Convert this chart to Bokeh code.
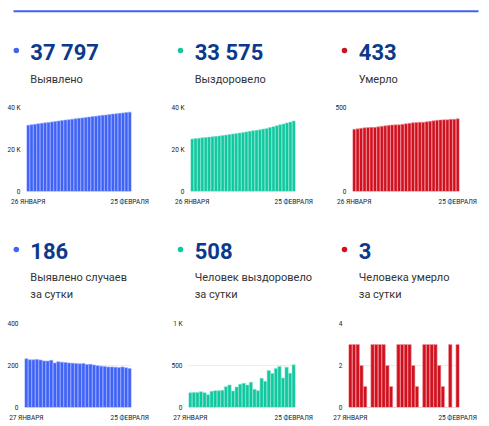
from bokeh.plotting import figure
from bokeh.layouts import column, row
from bokeh.models import Range1d, FixedTicker, ColumnDataSource
from bokeh.core.properties import value
from bokeh.embed import file_html
from bokeh.resources import INLINE

# ---------------- data ----------------
cum_x_labels = ["26 ЯНВАРЯ", "25 ФЕВРАЛЯ"]
daily_x_labels = ["27 ЯНВАРЯ", "25 ФЕВРАЛЯ"]

cum_cases = [31538, 31770, 31997, 32224, 32453, 32679, 32901, 33122, 33347, 33559,
             33777, 33993, 34207, 34419, 34630, 34840, 35048, 35257, 35462, 35668,
             35870, 36069, 36266, 36461, 36654, 36847, 37039, 37229, 37422, 37611, 37797]
cum_recovered = [25019, 25195, 25375, 25555, 25743, 25919, 26071, 26263, 26463, 26663,
                 26867, 27115, 27383, 27579, 27823, 28099, 28387, 28655, 28955, 29171,
                 29371, 29719, 30031, 30471, 30875, 31339, 31827, 32179, 32659, 33067, 33575]
cum_deaths = [370, 373, 376, 379, 381, 382, 382, 385, 388, 391, 394, 396, 397, 397, 400,
              403, 406, 409, 411, 412, 412, 415, 418, 421, 424, 426, 427, 427, 430, 430, 433]

daily_cases = [232, 227, 227, 229, 226, 222, 221, 225, 212, 218, 216, 214, 212, 211, 210,
               208, 209, 205, 206, 202, 199, 197, 195, 193, 193, 192, 190, 193, 189, 186]
daily_recovered = [176, 180, 180, 188, 176, 152, 192, 200, 200, 204, 248, 268, 196, 244, 276,
                   288, 268, 300, 216, 200, 348, 312, 440, 404, 464, 488, 352, 480, 408, 508]
daily_deaths = [3, 3, 3, 2, 1, 0, 3, 3, 3, 3, 2, 1, 0, 3, 3,
                3, 3, 2, 1, 0, 3, 3, 3, 3, 2, 1, 0, 3, 0, 3]

headline_cum = [37797, 33575, 433]
headline_daily = [186, 508, 3]
captions_cum = [["Выявлено"], ["Выздоровело"], ["Умерло"]]
captions_daily = [["Выявлено случаев", "за сутки"],
                  ["Человек выздоровело", "за сутки"],
                  ["Человека умерло", "за сутки"]]

y_max_cum = [40000, 40000, 500]
y_ticks_cum = [[0, 20000, 40000], [0, 20000, 40000], [0, 500]]
y_tick_labels_cum = [["0", "20 K", "40 K"], ["0", "20 K", "40 K"], ["0", "500"]]
y_max_daily = [400, 1000, 4]
y_ticks_daily = [[0, 200, 400], [0, 500, 1000], [0, 2, 4]]
y_tick_labels_daily = [["0", "200", "400"], ["0", "500", "1 K"], ["0", "2", "4"]]

# ---------------- style / layout ----------------
BLUE, GREEN, RED = "#3f63f5", "#10c7a0", "#d0101d"
EDGE = {BLUE: "#9aabff", GREEN: "#86e6cf", RED: "#f09aa2"}
NUM_COLOR = "#0b3a8c"
TXT_COLOR = "#333333"
FONT = "Roboto"
NUM_SIZE, CAP_SIZE = 22, 11

col_widths = [165, 163, 161]
col_left = [0, 165, 328]
# (min_border_left, min_border_right)
top_borders = [(26, 34), (25, 33), (24, 30)]
bot_borders = [(24, 34), (23, 33), (20, 30)]
RULE_H = 20
TOP_HEAD_H, TOP_CHART_H = 80, 112      # chart: 7 + 84 + 21
BOT_HEAD_H, BOT_CHART_H = 104, 108     # chart: 7 + 84 + 17
dot_xs = [15.8, 180, 344]
text_xs = [29.8, 194.2, 358.3]


def fmt(v):
    return f"{v:,}".replace(",", " ")


def bare(width, height, xr, yr):
    p = figure(width=width, height=height, toolbar_location=None,
               output_backend="svg", x_range=xr, y_range=yr,
               x_axis_type=None, y_axis_type=None, min_border=0,
               min_border_left=0, min_border_right=0, min_border_top=0,
               min_border_bottom=0, frame_align=False)
    p.outline_line_color = None
    p.grid.visible = False
    return p


def make_header(width, height, top_page, left_page, color, number, caption,
                dot_x, text_x, dot_y, num_y, cap_ys):
    p = bare(width, height, Range1d(0, width), Range1d(height, 0))
    p.scatter(x=[dot_x - left_page], y=[dot_y - top_page], size=5.5,
              fill_color=color, line_color=None)
    p.text(x=[text_x - left_page], y=[num_y - top_page - 0.26 * NUM_SIZE],
           text=[fmt(number)], text_font=value(FONT),
           text_font_size=f"{NUM_SIZE}px", text_font_style="bold",
           text_color=NUM_COLOR, text_baseline="alphabetic", text_align="left")
    p.text(x=[text_x - left_page] * len(caption),
           y=[c - top_page - 0.3 * CAP_SIZE for c in cap_ys],
           text=caption, text_font=value(FONT), text_font_size=f"{CAP_SIZE}px",
           text_color=TXT_COLOR, text_baseline="alphabetic", text_align="left")
    return p


def make_chart(values, color, width, height, borders, border_tb, ymax, yticks,
               ylabels, xlabels):
    n = len(values)
    p = figure(width=width, height=height, toolbar_location=None,
               output_backend="svg", x_range=Range1d(-0.5, n - 0.5),
               y_range=Range1d(0, ymax), min_border_left=borders[0],
               min_border_right=borders[1], min_border_top=border_tb[0],
               min_border_bottom=border_tb[1], frame_align=False)
    p.outline_line_color = None
    src = ColumnDataSource(dict(x=list(range(n)), top=values))
    p.vbar(x="x", top="top", width=0.92, bottom=0, source=src, fill_color=color,
           line_color=EDGE[color], line_width=0.6)
    xt = FixedTicker(ticks=[0, n - 1])
    p.xaxis.ticker = xt
    p.xaxis.major_label_overrides = {0: xlabels[0], n - 1: xlabels[1]}
    yt = FixedTicker(ticks=yticks)
    p.yaxis.ticker = yt
    p.yaxis.major_label_overrides = dict(zip(yticks, ylabels))
    for ax in (p.xaxis[0], p.yaxis[0]):
        ax.axis_line_color = None
        ax.major_tick_line_color = None
        ax.minor_tick_line_color = None
        ax.major_tick_out = 0
        ax.major_tick_in = 0
        ax.major_label_text_font = FONT
        ax.major_label_text_font_size = "6.5px"
        ax.major_label_text_color = "#1a1a1a"
        ax.major_label_standoff = 6
    p.xgrid.visible = False
    p.ygrid.ticker = yt
    p.ygrid.grid_line_color = "#ececec"
    p.ygrid.level = "underlay"
    return p


# blue rule at top
rule = bare(489, RULE_H, Range1d(0, 489), Range1d(RULE_H, 0))
rule.segment(x0=[13], y0=[10.8], x1=[478], y1=[10.8], line_color=BLUE, line_width=2)

colors = [BLUE, GREEN, RED]
cum_series = [cum_cases, cum_recovered, cum_deaths]
daily_series = [daily_cases, daily_recovered, daily_deaths]

top_cells = []
bot_cells = []
top_head_top = RULE_H
bot_head_top = RULE_H + TOP_HEAD_H + TOP_CHART_H
for i in range(3):
    h1 = make_header(col_widths[i], TOP_HEAD_H, top_head_top, col_left[i], colors[i],
                     headline_cum[i], captions_cum[i], dot_xs[i], text_xs[i],
                     50, 57.5, [82.5])
    c1 = make_chart(cum_series[i], colors[i], col_widths[i], TOP_CHART_H,
                    top_borders[i], (7, 21), y_max_cum[i], y_ticks_cum[i],
                    y_tick_labels_cum[i], cum_x_labels)
    top_cells.append(column(h1, c1))
    h2 = make_header(col_widths[i], BOT_HEAD_H, bot_head_top, col_left[i], colors[i],
                     headline_daily[i], captions_daily[i], dot_xs[i], text_xs[i],
                     249, 256.7, [280.7, 297.3])
    c2 = make_chart(daily_series[i], colors[i], col_widths[i], BOT_CHART_H,
                    bot_borders[i], (7, 17), y_max_daily[i], y_ticks_daily[i],
                    y_tick_labels_daily[i], daily_x_labels)
    bot_cells.append(column(h2, c2))

layout = column(rule, row(*top_cells), row(*bot_cells))

with open("out.html", "w") as f:
    f.write(file_html(layout, INLINE))
